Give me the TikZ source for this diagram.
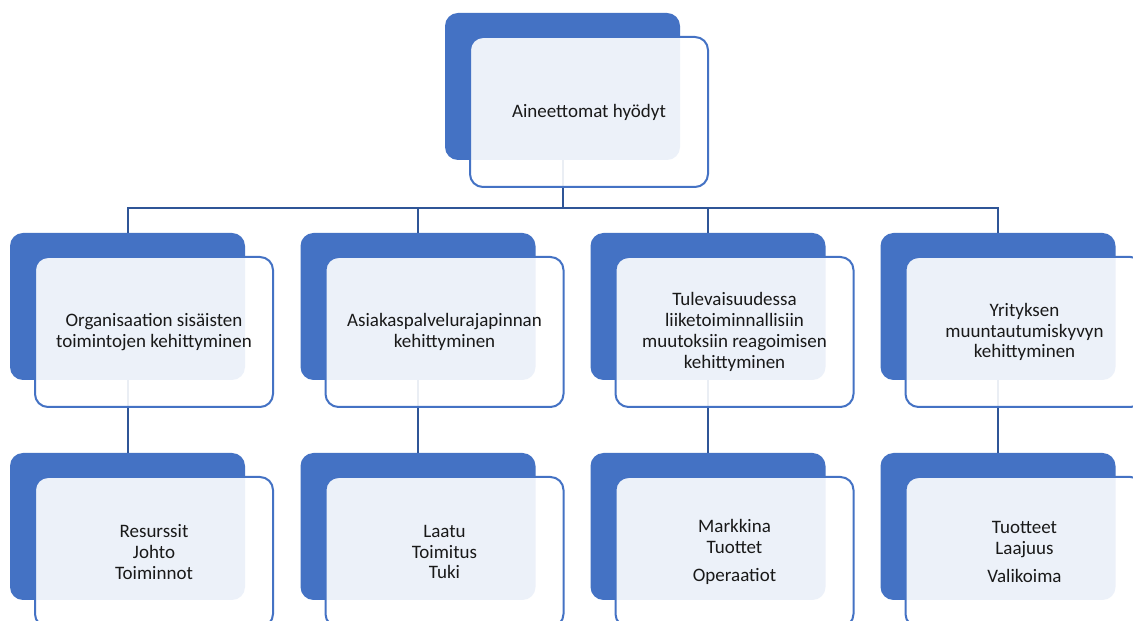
\documentclass[tikz,border=0pt]{standalone}
\usepackage{fontspec}
\setmainfont{Carlito}
\definecolor{boxBlue}{RGB}{68,114,196}
\definecolor{lineBlue}{RGB}{47,85,151}
\tikzset{
  backbox/.style={fill=boxBlue,rounded corners=13pt,minimum width=235pt,minimum height=147pt,inner sep=0pt},
  frontbox/.style={draw=boxBlue,line width=2pt,fill=white,fill opacity=0.9,text opacity=1,
    rounded corners=13pt,minimum width=238pt,minimum height=150pt,inner sep=0pt,
    align=center,text=black!90,font=\fontsize{19}{20.8}\selectfont},
  link/.style={draw=lineBlue,line width=2pt}
}
\begin{document}
\begin{tikzpicture}[x=1pt,y=1pt]
\path[use as bounding box,fill=white] (0,0) rectangle (1133,621);
\begin{scope}
\path[clip] (0,0) rectangle (1133,621);

% back boxes
\node[backbox] (hyodyt) at (562.5,534.5) {};

\node[backbox] (org) at (127.5,314.5) {};
\node[backbox] (asi) at (418,314.5) {};
\node[backbox] (tul) at (708,314.5) {};
\node[backbox] (yri) at (998,314.5) {};

\node[backbox] (orgsub) at (127.5,94.5) {};
\node[backbox] (asisub) at (418,94.5) {};
\node[backbox] (tulsub) at (708,94.5) {};
\node[backbox] (yrisub) at (998,94.5) {};

% connectors
\coordinate (bus) at (hyodyt.south |- 0,413);
\draw[link] (hyodyt.south) -- (bus);
\foreach \n in {org,asi,tul,yri}
  \draw[link] (bus) -| (\n.north);
\foreach \n in {org,asi,tul,yri}
  \draw[link] (\n.south) -- (\n sub.north);

% front boxes
\node[frontbox] (hyodytT) at ([shift={(26.5,-25.5)}]hyodyt.center) {Aineettomat hyödyt};

\node[frontbox] (orgT) at ([shift={(26.5,-25.5)}]org.center) {Organisaation sisäisten\\toimintojen kehittyminen};
\node[frontbox] (asiT) at ([shift={(26.5,-25.5)}]asi.center) {Asiakaspalvelurajapinnan\\kehittyminen};
\node[frontbox] (tulT) at ([shift={(26.5,-25.5)}]tul.center) {Tulevaisuudessa\\liiketoiminnallisiin\\muutoksiin reagoimisen\\kehittyminen};
\node[frontbox] (yriT) at ([shift={(26.5,-25.5)}]yri.center) {Yrityksen\\muuntautumiskyvyn\\kehittyminen};

\node[frontbox] (orgsubT) at ([shift={(26.5,-25.5)}]orgsub.center) {Resurssit\\Johto\\Toiminnot};
\node[frontbox] (asisubT) at ([shift={(26.5,-25.5)}]asisub.center) {Laatu\\Toimitus\\Tuki};
\node[frontbox] (tulsubT) at ([shift={(26.5,-25.5)}]tulsub.center) {Markkina\\Tuottet\\[8pt]Operaatiot};
\node[frontbox] (yrisubT) at ([shift={(26.5,-25.5)}]yrisub.center) {Tuotteet\\Laajuus\\[8pt]Valikoima};
\end{scope}
\end{tikzpicture}
\end{document}
